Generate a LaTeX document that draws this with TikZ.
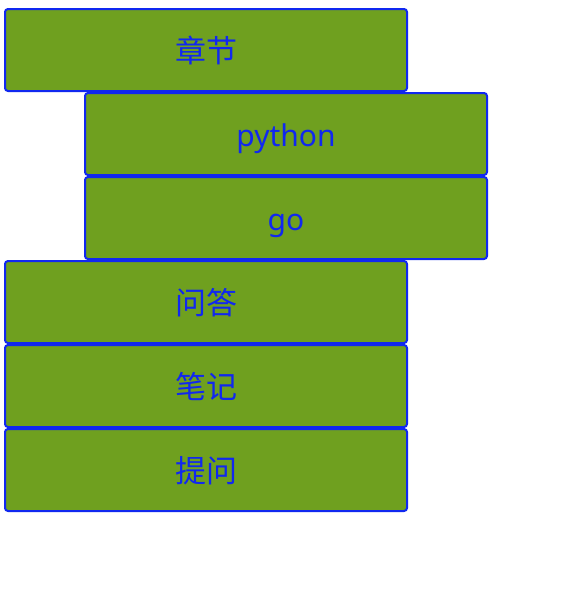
\documentclass[tikz,border=0pt]{standalone}
\usepackage{fontspec}
\setmainfont{Noto Sans}
\newfontfamily\cjk{Noto Sans CJK SC}
\definecolor{boxfill}{RGB}{111,160,31}
\definecolor{boxline}{RGB}{16,40,240}
\tikzset{
  itembox/.style={draw=boxline, fill=boxfill, line width=2pt, rounded corners=3pt,
    minimum width=402pt, minimum height=82pt, inner sep=0pt, outer sep=0pt,
    text height=28.5pt, text depth=3.5pt,
    text=boxline, font=\fontsize{30}{34}\selectfont, anchor=north west},
  cjkbox/.style={itembox, font=\cjk\fontsize{31}{34}\selectfont}
}
\begin{document}
\begin{tikzpicture}[x=1pt,y=-1pt]
\useasboundingbox (0,0) rectangle (578,598);
\node[cjkbox] (b1) at (5,9) {章节};
\node[itembox] (b2) at (85,93) {python};
\node[itembox] (b3) at (85,177) {go};
\node[cjkbox] (b4) at (5,261) {问答};
\node[cjkbox] (b5) at (5,345) {笔记};
\node[cjkbox] (b6) at (5,429) {提问};
\end{tikzpicture}
\end{document}
